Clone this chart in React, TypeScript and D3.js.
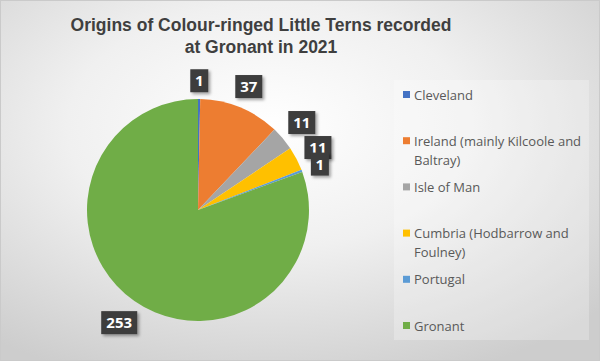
import React from 'react';
import * as d3 from 'd3';

// données
const origins = [
  'Cleveland',
  'Ireland (mainly Kilcoole and Baltray)',
  'Isle of Man',
  'Cumbria (Hodbarrow and Foulney)',
  'Portugal',
  'Gronant',
];
const counts = [1, 37, 11, 11, 1, 253];
const legendLines = [
  ['Cleveland'],
  ['Ireland (mainly Kilcoole and', 'Baltray)'],
  ['Isle of Man'],
  ['Cumbria (Hodbarrow and', 'Foulney)'],
  ['Portugal'],
  ['Gronant'],
];
const colours = ['#4472C4', '#ED7D31', '#A5A5A5', '#FFC000', '#5B9BD5', '#70AD47'];

const W = 600;
const H = 361;
const cx = 198;
const cy = 210;
const radius = 111;

const App = () => {
  const data = origins.map((o, i) => ({ origin: o, count: counts[i] }));
  const pie = d3.pie<any>().value((d) => d.count).sort(null);
  const arcs = pie(data);
  const arc = d3.arc<any>().innerRadius(0).outerRadius(radius);
  const color = d3.scaleOrdinal<string>().domain(origins).range(colours);

  // position des étiquettes : coin le plus proche juste à l'extérieur du cercle
  const labelPos = (a: any, w: number, h: number) => {
    const mid = (a.startAngle + a.endAngle) / 2;
    const ux = Math.sin(mid);
    const uy = -Math.cos(mid);
    const kx = -Math.sign(ux || 1) * (w / 2);
    const ky = -Math.sign(uy || 1) * (h / 2);
    const R = radius + 7;
    const dot = ux * kx + uy * ky;
    const t = -dot + Math.sqrt(dot * dot - (kx * kx + ky * ky) + R * R);
    return [cx + ux * t, cy + uy * t];
  };

  const legendY = d3.scalePoint<string>().domain(origins).range([95, 326]);

  return (
    <svg width={W} height={H} style={{ position: 'absolute', left: 0, top: 0 }}>
      <defs>
        <radialGradient id="bg" cx="45%" cy="35%" r="75%">
          <stop offset="0%" stopColor="#ffffff" />
          <stop offset="45%" stopColor="#f0f0f0" />
          <stop offset="100%" stopColor="#cdcdcd" />
        </radialGradient>
        <filter id="shadow" x="-30%" y="-30%" width="170%" height="170%">
          <feDropShadow dx="2" dy="2" stdDeviation="1.5" floodColor="#000" floodOpacity="0.35" />
        </filter>
      </defs>
      <rect x={0} y={0} width={W} height={H} fill="url(#bg)" />
      <rect x={0.5} y={0.5} width={W - 1} height={H - 1} fill="none" stroke="#cacaca" />

      <text x={261} y={31} textAnchor="middle" fontFamily="Liberation Sans, Arial, sans-serif" fontWeight="bold" fontSize={17.5} fill="#3f3f3f">
        Origins of Colour-ringed Little Terns recorded
      </text>
      <text x={261} y={53} textAnchor="middle" fontFamily="Liberation Sans, Arial, sans-serif" fontWeight="bold" fontSize={17.5} fill="#3f3f3f">
        at Gronant in 2021
      </text>

      <g transform={`translate(${cx},${cy})`}>
        {arcs.map((a, i) => (
          <path key={i} d={arc(a) as string} fill={color(a.data.origin)} />
        ))}
      </g>

      {arcs.map((a, i) => {
        const txt = String(a.data.count);
        const w = txt.length * 9 + 9;
        const h = 23;
        const [x, y] = labelPos(a, w, h);
        return (
          <g key={i} transform={`translate(${x},${y})`}>
            <rect x={-w / 2} y={-h / 2} width={w} height={h} fill="#3d3d3d" filter="url(#shadow)" />
            <text y={5.5} textAnchor="middle" fontFamily="Open Sans, sans-serif" fontWeight="bold" fontSize={15} fill="#ffffff">
              {txt}
            </text>
          </g>
        );
      })}

      <rect x={394} y={80} width={195} height={260} fill="#ffffff" opacity={0.25} />
      {origins.map((o, i) => {
        const y = legendY(o) as number;
        return (
          <g key={o}>
            <rect x={403} y={y - 4} width={7} height={7} fill={color(o)} />
            {legendLines[i].map((line, j) => (
              <text key={j} x={414} y={y + 4.5 + j * 19} fontFamily="Open Sans, sans-serif" fontSize={13} fill="#595959">
                {line}
              </text>
            ))}
          </g>
        );
      })}
    </svg>
  );
};

export default App;
